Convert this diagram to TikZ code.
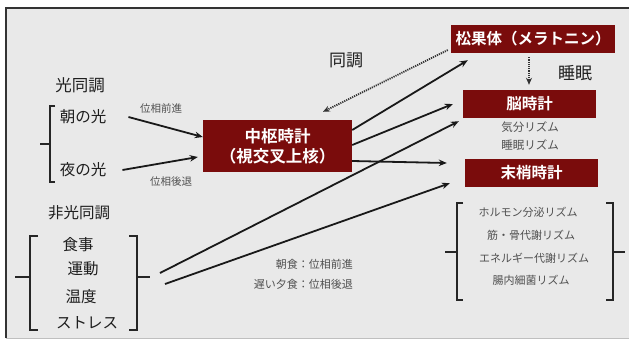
\documentclass[tikz,border=0pt]{standalone}
\usepackage{fontspec}
\setmainfont{Noto Sans CJK JP}[BoldFont={Noto Sans CJK JP Bold}]
\usetikzlibrary{arrows.meta}
\definecolor{boxred}{RGB}{122,12,12}
\definecolor{bgray}{RGB}{233,233,233}
\definecolor{txt}{RGB}{30,30,30}
\definecolor{stxt}{RGB}{80,80,80}
\tikzset{
  redbox/.style={fill=boxred,text=white,inner sep=0pt,align=center,font=\bfseries\fontsize{15.5}{19}\selectfont},
  lbl/.style={inner sep=0pt,text=txt,font=\fontsize{15.5}{18}\selectfont},
  slbl/.style={inner sep=0pt,text=stxt,font=\fontsize{10.5}{12}\selectfont},
  rlbl/.style={inner sep=0pt,text=stxt,font=\fontsize{11}{13}\selectfont},
  arr/.style={line width=1.8pt,draw=black!90,-{Stealth[length=8pt,width=6.5pt]}},
  darr/.style={line width=1.8pt,draw=black!80,dash pattern=on 1.2pt off 1pt,-{Stealth[length=7pt,width=6pt]}},
  brk/.style={line width=1.4pt,draw=black!85}
}
\begin{document}
\begin{tikzpicture}[x=1pt,y=-1pt]
\useasboundingbox (0,0) rectangle (629,343);
\fill[white] (0,0) rectangle (629,343);
\fill[bgray] (6,8) rectangle (629,338);
\draw[black!25,line width=1pt] (6,338) -- (629,338);
\draw[black!80,line width=1.6pt] (6,338) -- (6,8) -- (629,8);

% boxes
\node[redbox,minimum width=149pt,minimum height=52pt,font=\bfseries\fontsize{16.5}{20}\selectfont] (scn) at (277.5,146) {中枢時計\\（視交叉上核）};
\node[redbox,minimum width=164pt,minimum height=28pt] (pineal) at (533,39) {松果体（メラトニン）};
\node[redbox,minimum width=133pt,minimum height=28pt] (brain) at (529.5,104) {脳時計};
\node[redbox,minimum width=133pt,minimum height=28pt] (periph) at (531.5,173) {末梢時計};

% light group
\node[lbl,font=\fontsize{16.5}{18}\selectfont] (hikari) at (80,85) {光同調};
\node[lbl] (asa) at (83,117) {朝の光};
\node[lbl] (yoru) at (83,170) {夜の光};
\node[slbl] (zenshin) at (161,108) {位相前進};
\node[slbl] (kotai) at (171,182) {位相後退};
\draw[brk] (55,106) -- (50,106) -- (50,182) -- (55,182);
\draw[brk] (50,144) -- (40,144);

% labels top
\node[lbl,font=\fontsize{17}{19}\selectfont] (douchou) at (346,60) {同調};
\node[lbl,font=\fontsize{17}{19}\selectfont] (suimin) at (575,73) {睡眠};
\node[rlbl,font=\fontsize{11.5}{13}\selectfont] (kibun) at (530,127) {気分リズム};
\node[rlbl,font=\fontsize{11.5}{13}\selectfont] (suiminR) at (530,145) {睡眠リズム};

% non-light group
\node[lbl] (hikarinashi) at (79,213) {非光同調};
\node[lbl] (shokuji) at (78,245) {食事};
\node[lbl] (undou) at (83,269) {運動};
\node[lbl] (ondo) at (81,297) {温度};
\node[lbl] (stress) at (87,323) {ストレス};
\draw[brk] (38,236) -- (30,236) -- (30,330) -- (38,330);
\draw[brk] (30,277) -- (15,277);
\draw[brk] (129,236) -- (137,236) -- (137,330) -- (129,330);
\draw[brk] (137,277) -- (150,277);
\coordinate (nlR) at (150,277);

\node[rlbl,anchor=east] (choushoku) at (353,264) {朝食：位相前進};
\node[rlbl,anchor=east] (yuushoku) at (353,284) {遅い夕食：位相後退};

% rhythm group
\node[rlbl] (horumon) at (528,212) {ホルモン分泌リズム};
\node[rlbl] (kin) at (531,235) {筋・骨代謝リズム};
\node[rlbl] (energy) at (534,258) {エネルギー代謝リズム};
\node[rlbl] (chounai) at (531,280) {腸内細菌リズム};
\draw[brk] (463,203) -- (457,203) -- (457,300) -- (463,300);
\draw[brk] (457,252) -- (445,252);
\draw[brk] (606,203) -- (613,203) -- (613,300) -- (606,300);
\draw[brk] (613,252) -- (625,252);

% arrows
\draw[arr] ([xshift=22pt]asa.east) -- ([yshift=9pt]scn.west);
\draw[arr] ([xshift=16pt]yoru.east) -- ([xshift=-5pt,yshift=-11pt]scn.west);
\draw[arr] ([yshift=16pt]scn.east) -- ([xshift=17pt,yshift=-7pt]pineal.south west);
\draw[arr] ([yshift=1pt]scn.east) -- ([xshift=-10pt]brain.west);
\draw[arr] ([yshift=-15pt]scn.east) -- ([xshift=-18pt,yshift=10pt]periph.west);
\draw[arr] ([xshift=10pt,yshift=4pt]nlR) -- ([xshift=-4pt,yshift=-3pt]brain.south west);
\draw[arr] ([xshift=15pt,yshift=-7pt]nlR) -- ([xshift=-15pt,yshift=4pt]periph.south west);
\draw[darr] ([xshift=-3pt,yshift=-11pt]pineal.west) -- ([xshift=45.5pt,yshift=8pt]scn.north);
\draw[darr] ([xshift=-4pt,yshift=-4pt]pineal.south) -- ([xshift=-0.5pt,yshift=5pt]brain.north);
\end{tikzpicture}
\end{document}
